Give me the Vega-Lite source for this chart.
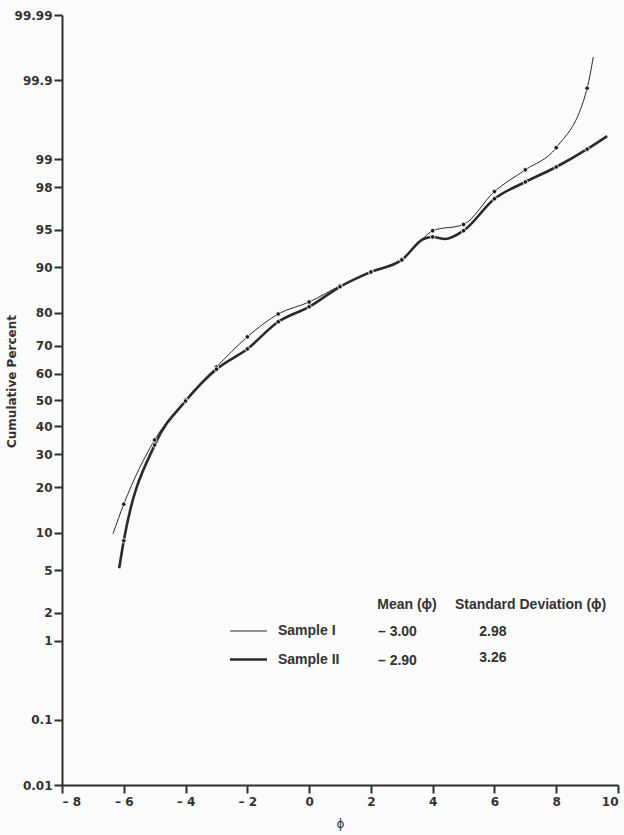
{
  "$schema": "https://vega.github.io/schema/vega-lite/v6.json",
  "width": 556,
  "height": 770,
  "autosize": "none",
  "padding": {"left": 62, "top": 15, "right": 6, "bottom": 50},
  "background": "#fafbfa",
  "config": {
    "view": {"stroke": null},
    "font": "Liberation Sans",
    "axis": {"grid": false, "domainColor": "#2e2e2e", "tickColor": "#2e2e2e", "domainWidth": 2, "tickWidth": 2, "tickSize": 8, "labelColor": "#333", "labelFont": "DejaVu Sans", "labelFontWeight": "bold", "labelFontSize": 12, "titleColor": "#333"}
  },
  "datasets": {
    "curves": [
      {"sample": "Sample I", "phi": -6.35, "pct": 9.8},
      {"sample": "Sample I", "phi": -6, "pct": 15.7},
      {"sample": "Sample I", "phi": -5, "pct": 35.0},
      {"sample": "Sample I", "phi": -4, "pct": 50.0},
      {"sample": "Sample I", "phi": -3, "pct": 62.5},
      {"sample": "Sample I", "phi": -2, "pct": 72.9},
      {"sample": "Sample I", "phi": -1, "pct": 79.7},
      {"sample": "Sample I", "phi": 0, "pct": 82.8},
      {"sample": "Sample I", "phi": 1, "pct": 86.5},
      {"sample": "Sample I", "phi": 2, "pct": 89.2},
      {"sample": "Sample I", "phi": 3, "pct": 91.3},
      {"sample": "Sample I", "phi": 3.7, "pct": 94.1},
      {"sample": "Sample I", "phi": 4, "pct": 94.9},
      {"sample": "Sample I", "phi": 5, "pct": 95.5},
      {"sample": "Sample I", "phi": 6, "pct": 97.8},
      {"sample": "Sample I", "phi": 7, "pct": 98.69},
      {"sample": "Sample I", "phi": 8, "pct": 99.26},
      {"sample": "Sample I", "phi": 9, "pct": 99.87},
      {"sample": "Sample I", "phi": 9.2, "pct": 99.954},
      {"sample": "Sample II", "phi": -6.15, "pct": 5.2},
      {"sample": "Sample II", "phi": -6, "pct": 8.7},
      {"sample": "Sample II", "phi": -5, "pct": 33.2},
      {"sample": "Sample II", "phi": -4, "pct": 49.6},
      {"sample": "Sample II", "phi": -3, "pct": 61.7},
      {"sample": "Sample II", "phi": -2, "pct": 68.9},
      {"sample": "Sample II", "phi": -1, "pct": 77.5},
      {"sample": "Sample II", "phi": 0, "pct": 81.6},
      {"sample": "Sample II", "phi": 1, "pct": 86.3},
      {"sample": "Sample II", "phi": 2, "pct": 89.2},
      {"sample": "Sample II", "phi": 3, "pct": 91.2},
      {"sample": "Sample II", "phi": 3.7, "pct": 94.0},
      {"sample": "Sample II", "phi": 4, "pct": 94.24},
      {"sample": "Sample II", "phi": 4.4, "pct": 94.0},
      {"sample": "Sample II", "phi": 5, "pct": 94.9},
      {"sample": "Sample II", "phi": 6, "pct": 97.4},
      {"sample": "Sample II", "phi": 7, "pct": 98.24},
      {"sample": "Sample II", "phi": 8, "pct": 98.78},
      {"sample": "Sample II", "phi": 9, "pct": 99.23},
      {"sample": "Sample II", "phi": 9.65, "pct": 99.46}
    ],
    "notes": [
      {"text": "Mean (ϕ)", "phi": 3.17, "pct": 2.38},
      {"text": "Standard Deviation (ϕ)", "phi": 7.17, "pct": 2.38},
      {"text": "– 3.00", "phi": 2.86, "pct": 1.25},
      {"text": "2.98", "phi": 5.95, "pct": 1.25},
      {"text": "– 2.90", "phi": 2.86, "pct": 0.585},
      {"text": "3.26", "phi": 5.95, "pct": 0.633}
    ]
  },
  "layer": [
    {
      "data": {"name": "curves"},
      "transform": [{"calculate": "quantileNormal(datum.pct / 100)", "as": "z"}],
      "mark": {"type": "line", "interpolate": "monotone", "color": "#2a2a2a"},
      "encoding": {
        "x": {"field": "phi", "type": "quantitative", "scale": {"domain": [-8, 10], "nice": false, "zero": false},
          "axis": {"values": [-8, -6, -4, -2, 0, 2, 4, 6, 8, 10], "labelExpr": "datum.value < 0 ? '– ' + abs(datum.value) : datum.label", "labelPadding": 3, "title": "ϕ", "titleFont": "DejaVu Sans", "titleFontWeight": "normal", "titleFontSize": 12, "titlePadding": 11}},
        "y": {"field": "z", "type": "quantitative", "scale": {"domain": [-3.719, 3.719], "nice": false, "zero": false},
          "axis": {"values": [-3.719, -3.0902, -2.3263, -2.0537, -1.6449, -1.2816, -0.8416, -0.5244, -0.2533, 0, 0.2533, 0.5244, 0.8416, 1.2816, 1.6449, 2.0537, 2.3263, 3.0902, 3.719],
            "labelExpr": "toString(round(cumulativeNormal(datum.value) * 10000) / 100)", "labelPadding": 2,
            "title": "Cumulative Percent", "titleFont": "DejaVu Sans", "titleFontWeight": "bold", "titleFontSize": 12, "titleX": -44, "titleY": 366}},
        "strokeWidth": {"field": "sample", "type": "ordinal", "scale": {"domain": ["Sample I", "Sample II"], "range": [1, 2.6]},
          "legend": {"orient": "none", "legendX": 179, "legendY": 609, "title": null, "symbolType": "M-3,0H3", "symbolSize": 152, "symbolStrokeColor": "#2a2a2a", "labelFont": "Liberation Sans", "labelFontSize": 14, "labelFontWeight": "bold", "labelColor": "#333", "labelOffset": 22, "rowPadding": 14, "padding": 0}}
      }
    },
    {
      "data": {"name": "curves"},
      "transform": [{"calculate": "quantileNormal(datum.pct / 100)", "as": "z"}, {"filter": "datum.phi == round(datum.phi)"}],
      "mark": {"type": "point", "filled": true, "color": "#1a1a1a", "size": 20, "stroke": "#fafbfa", "strokeWidth": 0.8, "opacity": 1},
      "encoding": {
        "x": {"field": "phi", "type": "quantitative"},
        "y": {"field": "z", "type": "quantitative"}
      }
    },
    {
      "data": {"name": "notes"},
      "transform": [{"calculate": "quantileNormal(datum.pct / 100)", "as": "z"}],
      "mark": {"type": "text", "align": "center", "baseline": "middle", "font": "Liberation Sans", "fontWeight": "bold", "fontSize": 14, "color": "#333"},
      "encoding": {
        "x": {"field": "phi", "type": "quantitative"},
        "y": {"field": "z", "type": "quantitative"},
        "text": {"field": "text", "type": "nominal"}
      }
    }
  ]
}
